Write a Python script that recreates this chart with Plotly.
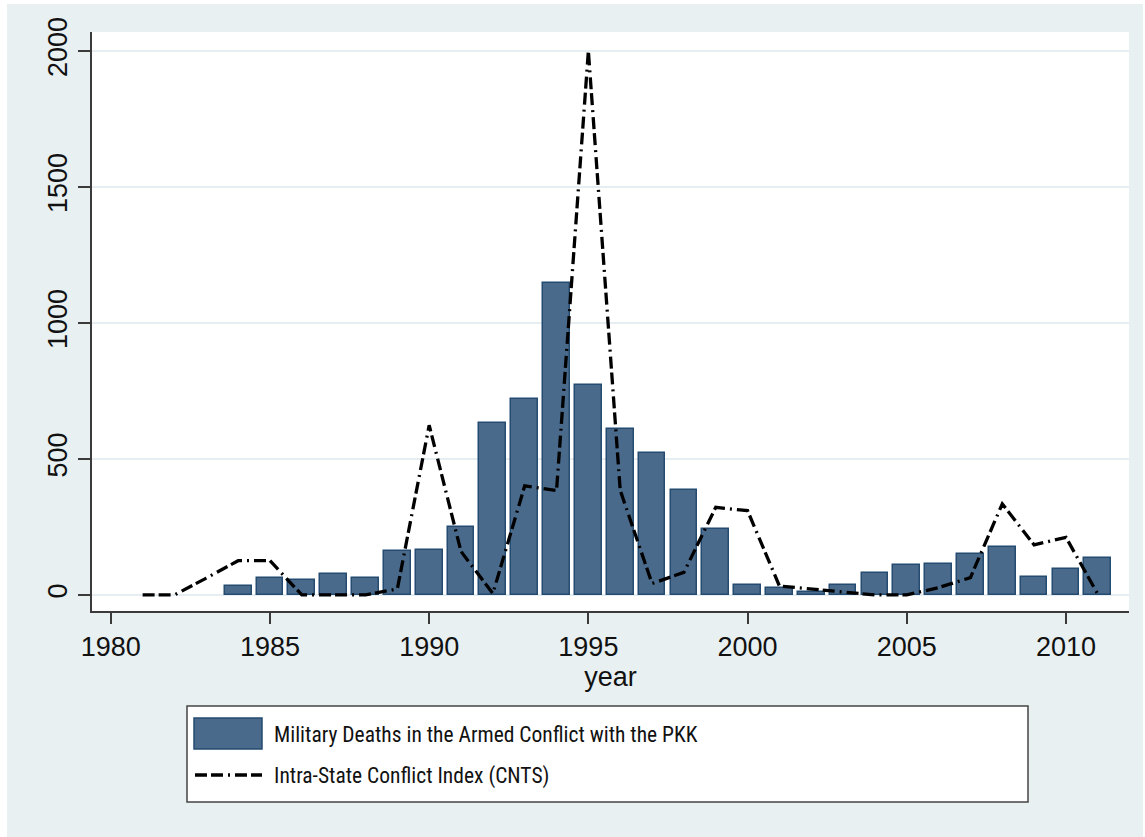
import plotly.graph_objects as go

# ---------------- data ----------------
years_bar = list(range(1984, 2012))
military_deaths = [32, 61, 56, 77, 63, 161, 166, 249, 631, 719, 1147, 773, 611, 523,
                   386, 243, 37, 27, 12, 37, 81, 110, 115, 150, 175, 66, 96, 135]

years_line = list(range(1981, 2012))
cnts_index = [0, 0, 62, 126, 126, 0, 0, 0, 22, 624, 160, 5, 401, 384, 2000, 385,
              42, 83, 322, 310, 33, 21, 12, 0, 0, 27, 64, 335, 184, 212, 3]

x_ticks = [1980, 1985, 1990, 1995, 2000, 2005, 2010]
y_ticks = [0, 500, 1000, 1500, 2000]
bar_label = "Military Deaths in the Armed Conflict with the PKK"
line_label = "Intra-State Conflict Index (CNTS)"
x_title = "year"

# ---------------- styling ----------------
W, H = 1145, 837
L, R, T, B = 92, 16, 32, 226
PW, PH = W - L - R, H - T - B

BG = "#E8F0F2"
GRID = "#E6EEF1"
BAR_FILL = "#4A6A8B"
BAR_LINE = "#244B70"
AXIS = "#3A3A3A"
DASH = "12px,4px,12px,5px,2px,5px"
TICK_FONT = dict(family="Liberation Sans, Arial, Helvetica, sans-serif", size=27, color="#111111")
LEG_FONT = dict(family="Liberation Sans Narrow, Arial Narrow, Roboto Condensed, DejaVu Sans Condensed, sans-serif",
                size=21.5, color="#111111")


def px(x):
    return (x - L) / PW


def py(y):
    return (H - B - y) / PH


fig = go.Figure()
fig.add_trace(go.Bar(x=years_bar, y=military_deaths, name=bar_label, width=0.84,
                     marker=dict(color=BAR_FILL, line=dict(color=BAR_LINE, width=1.5))))
fig.add_trace(go.Scatter(x=years_line, y=cnts_index, name=line_label, mode="lines",
                         line=dict(color="black", width=3.3, dash=DASH)))

shapes = [
    # outer light background panel
    dict(type="rect", xref="paper", yref="paper", x0=px(7), x1=px(1143), y0=py(837), y1=py(4),
         fillcolor=BG, line=dict(width=0), layer="below"),
    # white plot region
    dict(type="rect", xref="paper", yref="paper", x0=0, x1=1, y0=0, y1=1,
         fillcolor="white", line=dict(width=0), layer="below"),
    # legend box
    dict(type="rect", xref="paper", yref="paper", x0=px(187), x1=px(1028), y0=py(802), y1=py(706),
         fillcolor="white", line=dict(color="#444444", width=1.5), layer="above"),
    # legend swatch (bar)
    dict(type="rect", xref="paper", yref="paper", x0=px(194), x1=px(262), y0=py(749), y1=py(718),
         fillcolor=BAR_FILL, line=dict(color=BAR_LINE, width=1.5), layer="above"),
    # legend swatch (line)
    dict(type="line", xref="paper", yref="paper", x0=px(195), x1=px(262), y0=py(775), y1=py(775),
         line=dict(color="black", width=3.3, dash=DASH), layer="above"),
]

annotations = [
    dict(text=bar_label, xref="paper", yref="paper", x=px(272), y=py(734), xanchor="left",
         yanchor="middle", showarrow=False, font=LEG_FONT),
    dict(text=line_label, xref="paper", yref="paper", x=px(272), y=py(776), xanchor="left",
         yanchor="middle", showarrow=False, font=LEG_FONT),
]

fig.update_layout(
    width=W, height=H,
    margin=dict(l=L, r=R, t=T, b=B, pad=0),
    paper_bgcolor="white",
    plot_bgcolor="rgba(0,0,0,0)",
    showlegend=False,
    bargap=0,
    shapes=shapes,
    annotations=annotations,
    xaxis=dict(
        range=[1979.41, 2011.98], tickvals=x_ticks, ticktext=[str(v) for v in x_ticks],
        showgrid=False, zeroline=False, showline=True, linecolor=AXIS, linewidth=1.5,
        ticks="outside", ticklen=11, tickwidth=1.5, tickcolor=AXIS, tickfont=TICK_FONT,
        title=dict(text=x_title, font=TICK_FONT, standoff=6),
    ),
    yaxis=dict(
        range=[-59, 2070], tickvals=y_ticks, ticktext=[str(v) for v in y_ticks],
        showgrid=True, gridcolor=GRID, gridwidth=1.5, zeroline=False,
        showline=True, linecolor=AXIS, linewidth=1.5,
        ticks="outside", ticklen=12, tickwidth=1.5, tickcolor=AXIS, tickfont=TICK_FONT,
        tickangle=-90,
    ),
)

fig.write_html("out.html")
